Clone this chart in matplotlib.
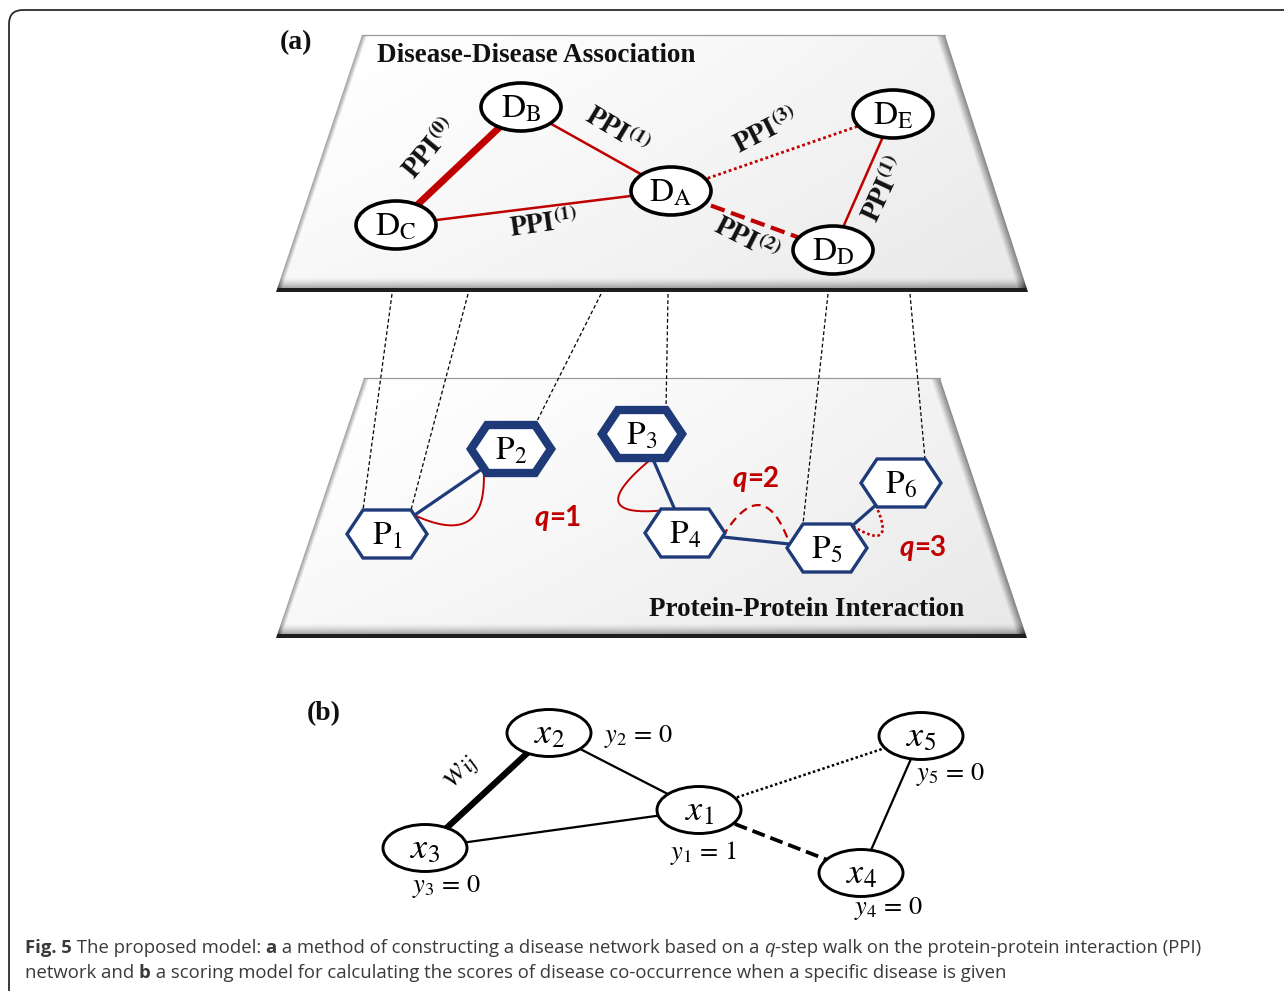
import numpy as np
import matplotlib
matplotlib.use('Agg')
import matplotlib.pyplot as plt
from matplotlib.patches import Ellipse, Polygon, FancyBboxPatch
from matplotlib.path import Path

plt.rcParams['mathtext.fontset'] = 'stix'

RED = '#c00000'
NAVY = '#1f3a78'

# ---- (a) disease layer ----
disease_names = ['A', 'B', 'C', 'D', 'E']
disease_xy = {'A': (671, 191), 'B': (521, 107), 'C': (396, 225), 'D': (833, 250), 'E': (893, 114)}
disease_edges = [('C', 'B'), ('B', 'A'), ('C', 'A'), ('A', 'E'), ('A', 'D'), ('D', 'E')]
ppi_steps = [0, 1, 1, 3, 2, 1]
# label placement per edge: (x, y, rotation)
ppi_label_pos = [(430, 149, 50), (617, 131, -31), (544, 224, 8), (766, 131, 27), (746, 240, -27), (885, 190, 65)]

# ---- (a) protein layer ----
protein_names = ['1', '2', '3', '4', '5', '6']
protein_xy = {'1': (387, 534), '2': (511, 449), '3': (642, 434), '4': (685, 533), '5': (827, 548), '6': (901, 483)}
protein_thick = ['2', '3']
protein_edges = [('1', '2'), ('3', '4'), ('4', '5'), ('5', '6')]
# q-step walks: (from, to, q, bulge)
walks = [('1', '2', 1, 0.84), ('3', '4', 1, 1.75), ('4', '5', 2, -1.05), ('6', '5', 3, -1.6)]
q_labels = [1, 2, 3]
q_label_pos = [(558, 518), (756, 479), (923, 548)]
# dashed links from disease layer down to proteins: (x on upper plane, protein, vertex)
links = [(392, '1', 1), (468, '1', 2), (601, '2', 2), (668, '3', 2), (828, '5', 1), (910, '6', 2)]

# ---- (b) scoring model ----
score_names = ['1', '2', '3', '4', '5']
score_xy = {'1': (699, 810), '2': (549, 733), '3': (425, 848), '4': (861, 873), '5': (921, 736)}
score_y = {'1': 1, '2': 0, '3': 0, '4': 0, '5': 0}
score_y_pos = {'1': (704, 853), '2': (639, 736), '3': (447, 886), '4': (889, 909), '5': (951, 775)}
edge_kinds = ['thick', 'solid', 'solid', 'dotted', 'dashed', 'solid']
score_edges = [('3', '2'), ('2', '1'), ('3', '1'), ('1', '5'), ('1', '4'), ('4', '5')]


def hexagon(cx, cy, w=80, h=48):
    return np.array([(cx - w / 2, cy), (cx - 0.3 * w, cy - h / 2), (cx + 0.3 * w, cy - h / 2),
                     (cx + w / 2, cy), (cx + 0.3 * w, cy + h / 2), (cx - 0.3 * w, cy + h / 2)])


def exit_point(verts, p0, p1):
    path = Path(verts)
    p0, p1 = np.array(p0, float), np.array(p1, float)
    lo, hi = 0.0, 1.0
    for _ in range(30):
        mid = (lo + hi) / 2
        if path.contains_point(p0 + mid * (p1 - p0)):
            lo = mid
        else:
            hi = mid
    return p0 + lo * (p1 - p0)


def draw_plane(ax, tl, tr, br, bl):
    poly = Polygon([tl, tr, br, bl], closed=True, facecolor='none', edgecolor='none')
    ax.add_patch(poly)
    x0, x1 = min(tl[0], bl[0]), max(tr[0], br[0])
    y0, y1 = tl[1], bl[1]
    xs = np.linspace(x0, x1, int(x1 - x0))
    ys = np.linspace(y0, y1, int(y1 - y0))
    X, Y = np.meshgrid(xs, ys)
    v = (Y - y0) / (y1 - y0)
    xl = tl[0] + (bl[0] - tl[0]) * v
    xr = tr[0] + (br[0] - tr[0]) * v
    u = (X - xl) / (xr - xl)
    g = 1.0 - 0.09 * np.clip(0.6 * u + 0.4 * v, 0, 1) ** 1.3
    d = y1 - Y
    g = g - 0.5 * np.clip(1 - d / 15, 0, 1) ** 1.6
    g = g - 0.35 * np.clip(1 - (X - xl) / 5, 0, 1) - 0.4 * np.clip(1 - (xr - X) / 9, 0, 1)
    g = np.where(d < 3.5, 0.12, g)
    g = np.clip(g, 0, 1)
    im = ax.imshow(np.dstack([g, g, g]), extent=(x0, x1, y1, y0), interpolation='bilinear',
                   aspect='auto', zorder=1)
    im.set_clip_path(poly)
    ax.plot([tl[0], tr[0]], [tl[1], tr[1]], color='#9a9a9a', lw=0.9, zorder=1.5)


def draw_runs(ax, renderer, x, y, runs, ha='left', **common):
    texts = [ax.text(0, y, s, va='center', **common, **props) for s, props in runs]
    widths = [t.get_window_extent(renderer).width for t in texts]
    if ha == 'center':
        x -= sum(widths) / 2
    for t, w in zip(texts, widths):
        t.set_x(x)
        x += w


def edge_style(kind, color, scale=1.0):
    if kind == 'thick':
        return dict(color=color, lw=5.0 * scale, solid_capstyle='butt')
    if kind == 'dotted':
        return dict(color=color, lw=2.0 * scale, linestyle=(0, (1, 1)))
    if kind == 'dashed':
        return dict(color=color, lw=3.0 * scale, linestyle=(0, (3.5, 1.6)))
    return dict(color=color, lw=1.8 * scale)


fig = plt.figure(figsize=(12.84, 9.91), dpi=100)
ax = fig.add_axes([0, 0, 1, 1])
renderer = fig.canvas.get_renderer()

# outer frame
ax.add_patch(FancyBboxPatch((9, 10), 1400, 1100, boxstyle='round,pad=0,rounding_size=14',
                            facecolor='none', edgecolor='#2b2b2b', lw=1.3, zorder=0))

# planes
draw_plane(ax, (362, 35), (945, 35), (1028, 292), (276, 292))
draw_plane(ax, (364, 378), (940, 378), (1027, 638), (276, 638))

serif_bold = dict(family='Liberation Serif', fontweight='bold', color='#111111', zorder=6)
ax.text(296, 43, '(a)', fontsize=20, ha='center', va='center', **serif_bold)
ax.text(324, 714, '(b)', fontsize=20, ha='center', va='center', **serif_bold)
ax.text(377, 55, 'Disease-Disease Association', fontsize=19.5, ha='left', va='center', **serif_bold)
ax.text(964, 610, 'Protein-Protein Interaction', fontsize=19.5, ha='right', va='center', **serif_bold)

# disease network
for (a, b), kind, step, (lx, ly, rot) in zip(disease_edges, edge_kinds, ppi_steps, ppi_label_pos):
    (xa, ya), (xb, yb) = disease_xy[a], disease_xy[b]
    ax.plot([xa, xb], [ya, yb], zorder=3, **edge_style(kind, RED))
    ax.text(lx, ly, r'$\mathbf{PPI}^{\mathbf{(%d)}}$' % step, fontsize=20, rotation=rot,
            rotation_mode='anchor', ha='center', va='center', color='#111111', zorder=6)
for n in disease_names:
    cx, cy = disease_xy[n]
    ax.add_patch(Ellipse((cx, cy), 80, 48, facecolor='white', edgecolor='black', lw=2.6, zorder=4))
    ax.text(cx, cy + 1, r'$\mathrm{D}_{\mathrm{%s}}$' % n, fontsize=24, ha='center', va='center',
            color='black', zorder=6)

# protein network
hexes = {n: hexagon(*protein_xy[n]) for n in protein_names}
for x_top, n, k in links:
    vx, vy = hexes[n][k]
    ax.plot([x_top, vx], [294, vy], color='black', lw=0.9, linestyle=(0, (3, 2)), zorder=2)
for a, b in protein_edges:
    (xa, ya), (xb, yb) = protein_xy[a], protein_xy[b]
    ax.plot([xa, xb], [ya, yb], color=NAVY, lw=2.3, zorder=3)
walk_styles = {1: dict(lw=1.4), 2: dict(lw=1.6, linestyle=(0, (4, 2.5))), 3: dict(lw=1.9, linestyle=(0, (1, 1)))}
for a, b, q, bulge in walks:
    p0 = exit_point(hexes[a], protein_xy[a], protein_xy[b])
    p2 = exit_point(hexes[b], protein_xy[b], protein_xy[a])
    d = p2 - p0
    c = (p0 + p2) / 2 + bulge * np.array([-d[1], d[0]])
    t = np.linspace(0, 1, 80)[:, None]
    pts = (1 - t) ** 2 * p0 + 2 * (1 - t) * t * c + t ** 2 * p2
    ax.plot(pts[:, 0], pts[:, 1], color=RED, zorder=3.5, **walk_styles[q])
for n in protein_names:
    thick = n in protein_thick
    ax.add_patch(Polygon(hexes[n], closed=True, facecolor='white', edgecolor=NAVY,
                         lw=6.0 if thick else 2.4, joinstyle='miter', zorder=4))
    ax.text(protein_xy[n][0], protein_xy[n][1] + 1, r'$\mathrm{P}_{%s}$' % n, fontsize=24,
            ha='center', va='center', color='black', zorder=6)
for q, (qx, qy) in zip(q_labels, q_label_pos):
    draw_runs(ax, renderer, qx, qy, [('q', dict(style='italic')), ('=%d' % q, {})], ha='center',
              family='Lato', fontweight='bold', fontsize=20, color=RED, zorder=6)

# scoring model
for (a, b), kind in zip(score_edges, edge_kinds):
    (xa, ya), (xb, yb) = score_xy[a], score_xy[b]
    ax.plot([xa, xb], [ya, yb], zorder=3, **edge_style(kind, 'black', 0.9))
for n in score_names:
    cx, cy = score_xy[n]
    ax.add_patch(Ellipse((cx, cy), 84, 47, facecolor='white', edgecolor='black', lw=2.1, zorder=4))
    ax.text(cx, cy, r'$x_{%s}$' % n, fontsize=26, ha='center', va='center', color='black', zorder=6)
    yx, yy = score_y_pos[n]
    ax.text(yx, yy, r'$y_{%s}\,=\,%d$' % (n, score_y[n]), fontsize=19, ha='center', va='center',
            color='black', zorder=6)
ax.text(461, 771, r'$w_{ij}$', fontsize=24, rotation=52, ha='center', va='center', color='black', zorder=6)

# caption
cap = dict(family='Open Sans', fontsize=13.3, color='#3a3a3a')
draw_runs(ax, renderer, 25, 948, [
    ('Fig. 5', dict(fontweight='bold')),
    (' The proposed model: ', {}),
    ('a', dict(fontweight='bold')),
    (' a method of constructing a disease network based on a ', {}),
    ('q', dict(style='italic')),
    ('-step walk on the protein-protein interaction (PPI)', {}),
], **cap)
draw_runs(ax, renderer, 25, 973, [
    ('network and ', {}),
    ('b', dict(fontweight='bold')),
    (' a scoring model for calculating the scores of disease co-occurrence when a specific disease is given', {}),
], **cap)

ax.set_xlim(0, 1284)
ax.set_ylim(991, 0)
ax.axis('off')
fig.savefig('out.png', dpi=100)
